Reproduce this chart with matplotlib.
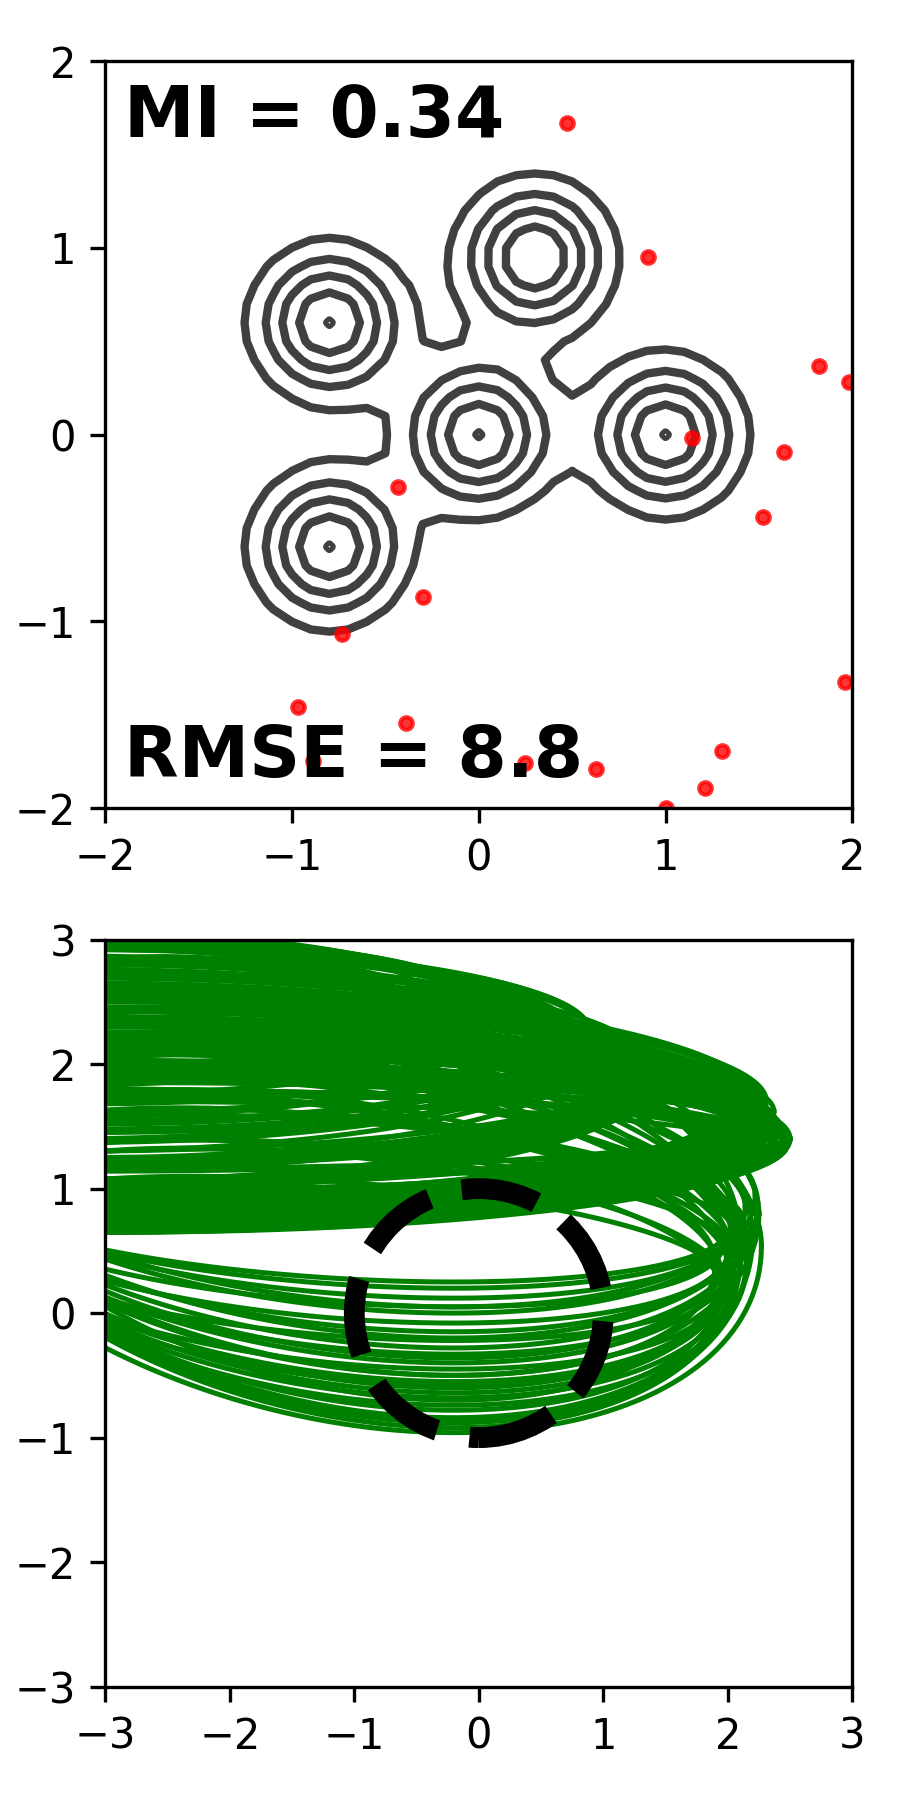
import numpy as np
import matplotlib
matplotlib.use("Agg")
import matplotlib.pyplot as plt
from matplotlib.patches import Circle

# ---- top panel data ----
# mixture components (centres, widths, weights)
comp_x = [0.0, 1.0, -0.8, -0.8, 0.3]
comp_y = [0.0, 0.0, 0.6, -0.6, 0.95]
comp_sigma = [0.25, 0.25, 0.25, 0.25, 0.25]
comp_weight = [0.2, 0.2, 0.2, 0.2, 0.2]
level_frac = [0.2, 0.4, 0.6, 0.8, 0.99]

# samples (red dots)
pts_x = [0.47, 0.905, 1.82, 1.98, 1.14, 1.635, 1.52, -0.435, -0.30, -0.73,
         1.96, -0.97, -0.39, -0.89, 0.245, 0.63, 1.30, 1.21, 1.00]
pts_y = [1.67, 0.95, 0.37, 0.28, -0.015, -0.095, -0.44, -0.28, -0.87, -1.065,
         -1.325, -1.46, -1.545, -1.745, -1.76, -1.79, -1.695, -1.89, -2.0]

mi_value = 0.34
rmse_value = 8.8

# ---- bottom panel data ----
# lower loops: tip x, tip y, lowest y
low_tip_x = [2.27, 2.10, 2.05, 2.20, 2.00, 2.15, 2.08, 1.95, 2.12, 2.02, 2.25, 1.98, 2.10,
             2.05, 2.18, 1.92, 2.08, 2.00, 2.14, 1.96, 2.06, 2.12, 2.02, 2.22, 1.90,
             2.16, 2.04, 1.94, 2.24, 2.09]
low_tip_y = [0.54, 0.45, 0.40, 0.62, 0.35, 0.40, 0.70, 0.30, 0.55, 0.35, 0.80, 0.25, 0.60,
             0.45, 0.75, 0.30, 0.65, 0.50, 0.85, 0.55, 0.72, 0.75, 0.70, 0.95, 0.40,
             0.50, 0.60, 0.20, 0.88, 0.38]
low_bot_y = [-0.96, -0.92, -0.86, -0.84, -0.78, -0.74, -0.70, -0.64, -0.60, -0.55, -0.50, -0.45, -0.40,
             -0.33, -0.28, -0.22, -0.15, -0.08, 0.00, 0.05, 0.12, 0.20, 0.25, 0.05, -0.50,
             -0.88, -0.36, -0.58, -0.20, -0.68]

# upper loops: tip x, tip y, half height, half width
up_tip_x = [2.50, 2.46, 2.44, 2.40, 2.38, 2.35, 2.33, 2.31, 2.30, 2.28, 2.26, 2.25, 2.22, 2.20,
            2.28, 2.32, 2.36, 2.24, 2.18, 2.15, 2.30, 2.27, 2.21, 2.34, 2.19, 2.42, 2.37, 2.23,
            2.29, 2.16, 2.31, 2.26, 2.40, 2.12, 2.20,
            2.48, 2.45, 2.43, 2.41, 2.39, 2.37, 2.35, 2.34, 2.32, 2.30, 2.29, 2.27, 2.25,
            2.24, 2.22, 2.21, 2.19, 2.17, 2.14, 2.13, 2.11, 2.09, 2.07, 2.05, 2.03,
            1.45, 1.40, 1.35, 1.42, 1.30, 1.38, 1.25, 1.44, 1.32, 1.20,
            1.50, 1.47, 1.36, 1.28, 1.22, 1.10, 1.05, 1.15,
            0.95, 0.90, 0.85, 0.92, 0.80, 0.88, 0.75, 0.94,
            0.82, 0.70, 0.60, 0.50, 0.40, 0.30,
            -0.10, -0.15, -0.05, -0.20, 0.00, -0.12,
            -0.30, -0.50, -0.80, -1.10, -0.25, -0.60]
up_tip_y = [1.40, 1.38, 1.42, 1.45, 1.36, 1.50, 1.55, 1.60, 1.65, 1.62, 1.58, 1.52, 1.48, 1.44,
            1.35, 1.30, 1.47, 1.68, 1.70, 1.56, 1.42, 1.50, 1.60, 1.57, 1.40, 1.50, 1.62, 1.72,
            1.46, 1.64, 1.70, 1.40, 1.33, 1.52, 1.75,
            1.36, 1.44, 1.40, 1.47, 1.52, 1.41, 1.38, 1.45, 1.53, 1.58, 1.63, 1.67, 1.45,
            1.55, 1.62, 1.38, 1.50, 1.58, 1.45, 1.66, 1.35, 1.55, 1.62, 1.48, 1.70,
            1.95, 1.90, 1.98, 1.85, 1.92, 2.00, 1.88, 1.80, 2.02, 1.95,
            1.88, 1.93, 1.86, 1.96, 1.90, 2.00, 1.92, 1.84,
            2.20, 2.25, 2.15, 2.10, 2.22, 2.28, 2.18, 2.05,
            2.12, 2.25, 2.20, 2.30, 2.28, 2.35,
            2.55, 2.58, 2.50, 2.62, 2.45, 2.48,
            2.60, 2.62, 2.65, 2.68, 2.40, 2.50]
up_half_h = [0.75, 0.60, 0.70, 0.80, 0.50, 0.85, 0.90, 0.95, 0.98, 0.82, 0.77, 0.72, 0.60, 0.56,
             0.45, 0.40, 0.52, 0.90, 0.92, 0.68, 0.35, 0.42, 0.55, 0.64, 0.48, 0.58, 0.70, 0.80,
             0.30, 0.62, 0.85, 0.62, 0.52, 0.38, 0.82,
             0.66, 0.74, 0.55, 0.68, 0.78, 0.62, 0.70, 0.46, 0.58, 0.88, 0.75, 0.96, 0.50,
             0.82, 0.70, 0.40, 0.65, 0.75, 0.55, 0.85, 0.45, 0.60, 0.90, 0.70, 0.80,
             0.75, 0.72, 0.74, 0.80, 0.70, 0.70, 0.85, 0.62, 0.78, 0.90,
             0.82, 0.76, 0.88, 0.80, 0.92, 0.85, 0.95, 0.78,
             0.72, 0.70, 0.78, 0.85, 0.70, 0.66, 0.80, 0.60,
             0.82, 0.72, 0.80, 0.62, 0.70, 0.60,
             0.50, 0.42, 0.52, 0.40, 0.55, 0.60,
             0.45, 0.38, 0.30, 0.28, 0.58, 0.45]
up_half_w = [5.4, 5.3, 5.2, 5.5, 5.1, 5.3, 5.4, 5.6, 5.3, 5.0, 5.2, 5.4, 5.1, 5.3,
             5.5, 5.2, 5.0, 5.4, 5.2, 5.5, 5.3, 5.1, 5.4, 5.2, 5.0, 5.6, 5.3, 5.1,
             5.4, 5.2, 5.5, 5.3, 5.0, 5.2, 5.4,
             5.5, 5.2, 5.4, 5.1, 5.6, 5.3, 5.0, 5.2, 5.5, 5.1, 5.4, 5.6, 5.2,
             5.0, 5.3, 5.5, 5.1, 5.4, 5.2, 5.0, 5.3, 5.5, 5.2, 5.4, 5.1,
             4.5, 4.4, 4.6, 4.5, 4.3, 4.7, 4.4, 4.5, 4.6, 4.2,
             4.8, 4.6, 4.4, 4.5, 4.3, 4.2, 4.4, 4.6,
             4.0, 3.9, 4.1, 4.0, 3.8, 4.0, 3.9, 4.1,
             4.2, 3.8, 3.9, 3.7, 3.6, 3.8,
             3.5, 3.4, 3.6, 3.3, 3.5, 3.4,
             3.2, 3.0, 2.8, 2.6, 3.4, 3.1]


def loop(xt, yt, w, h_up, h_lo, k):
    t = np.linspace(0, 2 * np.pi, 400)
    x = xt - w + w * np.cos(t)
    y = yt - k + k * np.cos(t) + np.where(np.sin(t) > 0, h_up, h_lo) * np.sin(t)
    return x, y


fig = plt.figure(figsize=(3, 6), dpi=300)
ax1 = fig.add_axes([0.117, 0.551, 0.83, 0.415])
ax2 = fig.add_axes([0.117, 0.063, 0.83, 0.415])

# top panel: density contours
gx = np.linspace(-2, 2, 41)
X, Y = np.meshgrid(gx, gx)
Z = np.zeros_like(X)
for cx, cy, s, w in zip(comp_x, comp_y, comp_sigma, comp_weight):
    Z += w / (2 * np.pi * s**2) * np.exp(-((X - cx)**2 + (Y - cy)**2) / (2 * s**2))
levels = [f * Z.max() for f in level_frac]
ax1.contour(X, Y, Z, levels=levels, colors='#404040', linewidths=2)
ax1.plot(pts_x, pts_y, 'o', color='red', alpha=0.8, ms=3, mew=1)
ax1.text(0.025, 0.898, f"MI = {mi_value}", transform=ax1.transAxes,
         fontsize=17, fontweight='bold', va='baseline')
ax1.text(0.025, 0.042, f"RMSE = {rmse_value}", transform=ax1.transAxes,
         fontsize=17, fontweight='bold', va='baseline')
ax1.set_xlim(-2, 2)
ax1.set_ylim(-2, 2)
ax1.set_xticks([-2, -1, 0, 1, 2])
ax1.set_yticks([-2, -1, 0, 1, 2])

# bottom panel: loops + unit circle
for xt, yt, yb in zip(low_tip_x, low_tip_y, low_bot_y):
    s = (yt - yb) / 0.7
    k = -0.3 * s
    h_lo = 0.954 * s
    w = (xt + 0.2) / 0.7
    x, y = loop(xt, yt, w, 0.75 * h_lo, h_lo, k)
    ax2.plot(x, y, color='green', lw=1.2)
for xt, yt, h, w in zip(up_tip_x, up_tip_y, up_half_h, up_half_w):
    x, y = loop(xt, yt, w, h, h, 0.0)
    ax2.plot(x, y, color='green', lw=1.2)
ax2.add_patch(Circle((0, 0), 1, fill=False, ls='--', lw=5, color='k', zorder=3))
ax2.set_xlim(-3, 3)
ax2.set_ylim(-3, 3)
ax2.set_xticks([-3, -2, -1, 0, 1, 2, 3])
ax2.set_yticks([-3, -2, -1, 0, 1, 2, 3])

fig.savefig("out.png", dpi=300)
